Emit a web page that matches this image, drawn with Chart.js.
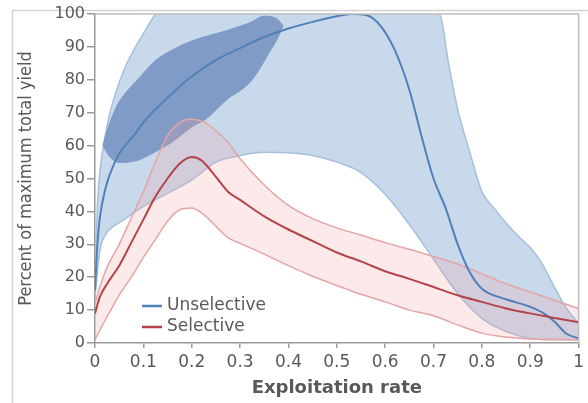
<!DOCTYPE html>
<html>
<head>
<meta charset="utf-8">
<script src="https://cdn.jsdelivr.net/npm/chart.js@4.4.0/dist/chart.umd.min.js"></script>
<style>
html, body { margin: 0; padding: 0; background: #fff; }
#wrap { width: 588px; height: 403px; }
</style>
</head>
<body>
<div id="wrap"><canvas id="chart" width="588" height="403"></canvas></div>
<script>
// data
const unselMeanX = [0, 0.005, 0.01, 0.02, 0.03, 0.05, 0.08, 0.1, 0.125, 0.15, 0.175, 0.2, 0.25, 0.3, 0.35, 0.4, 0.45, 0.5, 0.53, 0.56, 0.59, 0.62, 0.65, 0.675, 0.7, 0.725, 0.75, 0.775, 0.8, 0.85, 0.9, 0.925, 0.95, 0.975, 1];
const unselMeanY = [16, 30, 38, 46, 51, 57.5, 63, 67, 71, 74.5, 78, 81, 86, 89.6, 93, 95.6, 97.6, 99.3, 100, 99.7, 96.5, 89, 77, 63, 50, 41, 30, 21.5, 16.5, 13.3, 11, 9.3, 6.5, 2.8, 1.4];

const unselHighX = [0, 0.005, 0.01, 0.02, 0.03, 0.045, 0.06, 0.08, 0.1, 0.125, 0.15, 0.2, 0.3, 0.4, 0.5, 0.6, 0.66, 0.69, 0.715, 0.73, 0.75, 0.775, 0.8, 0.825, 0.85, 0.875, 0.9, 0.925, 0.95, 0.975, 1];
const unselHighY = [22, 42, 52, 62, 69.5, 77, 83, 89, 94, 100, 104, 109, 113, 114, 113, 110, 106, 102.5, 99, 86, 71, 58, 46, 41, 36.5, 32.5, 29, 24, 17, 10.5, 6];

const unselLowX = [0, 0.01, 0.02, 0.03, 0.06, 0.1, 0.15, 0.2, 0.25, 0.3, 0.35, 0.4, 0.45, 0.5, 0.55, 0.6, 0.65, 0.7, 0.75, 0.8, 0.85, 0.9, 0.95, 1];
const unselLowY = [14, 28, 32.5, 34.5, 37.5, 41.5, 45.5, 49.5, 55, 57, 58, 57.8, 57, 55, 51.8, 45.2, 36, 25.5, 15, 7.5, 3.5, 1.4, 1, 1];

// darker region around the unselective optimum
const blobTopX = [0.015, 0.025, 0.044, 0.065, 0.09, 0.125, 0.17, 0.21, 0.27, 0.32, 0.35, 0.375, 0.39];
const blobTopY = [60, 65, 72, 76.5, 80.5, 86, 90, 92.5, 95, 97.5, 99.5, 98.8, 96.5];
const blobBottomX = [0.015, 0.03, 0.05, 0.09, 0.125, 0.16, 0.2, 0.23, 0.27, 0.32, 0.34, 0.36, 0.38, 0.39];
const blobBottomY = [60, 56.5, 54.7, 55.5, 58, 61, 65.5, 68, 73.5, 79, 83, 88, 93, 96.5];

const selMeanX = [0, 0.01, 0.025, 0.05, 0.075, 0.1, 0.125, 0.15, 0.175, 0.2, 0.22, 0.25, 0.275, 0.3, 0.35, 0.4, 0.45, 0.5, 0.55, 0.6, 0.65, 0.7, 0.75, 0.8, 0.85, 0.9, 0.95, 1];
const selMeanY = [9, 14, 18, 23.5, 30.5, 37.5, 44.5, 50, 54.5, 56.5, 55.5, 50.5, 46, 43.5, 38.5, 34.5, 31, 27.5, 24.8, 21.8, 19.5, 17, 14.5, 12.5, 10.5, 9, 7.6, 6.3];

const selHighX = [0, 0.01, 0.025, 0.05, 0.075, 0.1, 0.125, 0.15, 0.175, 0.2, 0.225, 0.25, 0.275, 0.3, 0.35, 0.4, 0.45, 0.5, 0.55, 0.6, 0.65, 0.7, 0.75, 0.8, 0.85, 0.9, 0.95, 1];
const selHighY = [12, 17, 23, 30, 38, 46, 55, 63, 67, 68, 67.2, 64.5, 61, 56, 48, 41.8, 37.8, 35, 32.8, 30.5, 28.5, 26.3, 24, 21, 18, 15.5, 13, 10.5];

const selLowX = [0, 0.025, 0.05, 0.075, 0.1, 0.125, 0.15, 0.175, 0.2, 0.225, 0.25, 0.275, 0.3, 0.35, 0.4, 0.45, 0.5, 0.55, 0.6, 0.65, 0.7, 0.75, 0.8, 0.85, 0.9, 1];
const selLowY = [1, 8, 14.5, 20, 26, 31.5, 37, 40.5, 41, 39, 35.5, 32, 30.3, 27, 23.5, 20.3, 17.5, 14.8, 12.5, 10, 8.3, 5.5, 3, 1.8, 1.2, 1];

const legendLabels = ['Unselective', 'Selective'];

// colours
const blueLine = '#5080b9';
const blueEdge = '#a6bfdc';
const blueFill = '#c9d9ec';
const blobFill = '#809cc6';
const redLine = '#b5444a';
const redEdge = '#e6a4a6';
const redFill = 'rgba(240, 160, 160, 0.22)';
const textGray = '#595959';

function pts(xs, ys) {
    return xs.map((x, i) => ({ x: x, y: ys[i] }));
}

function lineSet(xs, ys, color, width, order, fill) {
    return {
        data: pts(xs, ys),
        borderColor: color,
        borderWidth: width,
        pointRadius: 0,
        cubicInterpolationMode: 'monotone',
        fill: fill || false,
        order: order
    };
}

const datasets = [
    // 0,1 unselective band
    lineSet(unselHighX, unselHighY, blueEdge, 1.5, 10, { target: 1, above: blueFill, below: blueFill }),
    lineSet(unselLowX, unselLowY, blueEdge, 1.5, 9),
    // 2,3 dark region
    lineSet(blobTopX, blobTopY, blobFill, 0, 8, { target: 3, above: blobFill, below: blobFill }),
    lineSet(blobBottomX, blobBottomY, blobFill, 0, 7),
    // 4,5 selective band
    lineSet(selHighX, selHighY, redEdge, 1.5, 6, { target: 5, above: redFill, below: redFill }),
    lineSet(selLowX, selLowY, redEdge, 1.5, 5),
    // 6,7 means
    lineSet(unselMeanX, unselMeanY, blueLine, 2, 2),
    lineSet(selMeanX, selMeanY, redLine, 2, 1)
];

// frame, plot border and legend
const decor = {
    id: 'decor',
    beforeDraw(chart) {
        const c = chart.ctx;
        c.save();
        c.fillStyle = '#fff';
        c.fillRect(0, 0, chart.width, chart.height);
        c.strokeStyle = '#d2d2d2';
        c.lineWidth = 1.5;
        c.strokeRect(12.5, 10.5, chart.width, chart.height);
        c.restore();
    },
    afterDraw(chart) {
        const c = chart.ctx;
        const a = chart.chartArea;
        c.save();
        c.strokeStyle = '#bdbdbd';
        c.lineWidth = 1.5;
        c.beginPath();
        c.moveTo(a.left, a.top);
        c.lineTo(a.right, a.top);
        c.lineTo(a.right, a.bottom);
        c.stroke();

        const colors = [blueLine, redLine];
        c.font = '17px "DejaVu Sans", sans-serif';
        c.textBaseline = 'middle';
        legendLabels.forEach((lab, i) => {
            const y = 306 + i * 21;
            c.strokeStyle = colors[i];
            c.lineWidth = 2.5;
            c.beginPath();
            c.moveTo(142, y);
            c.lineTo(162, y);
            c.stroke();
            c.fillStyle = textGray;
            c.fillText(lab, 167, y);
        });
        c.restore();
    }
};

new Chart(document.getElementById('chart'), {
    type: 'line',
    data: { datasets: datasets },
    options: {
        responsive: false,
        animation: false,
        layout: { padding: { left: 0, top: 14, right: 1, bottom: 0 } },
        plugins: {
            legend: { display: false },
            tooltip: { enabled: false },
            filler: { propagate: false }
        },
        scales: {
            x: {
                type: 'linear',
                min: 0,
                max: 1,
                afterFit: (s) => { s.height = 60; },
                grid: { drawOnChartArea: false, tickLength: 5, color: '#9a9a9a', lineWidth: 1.5 },
                border: { color: '#9a9a9a', width: 1.5 },
                ticks: {
                    stepSize: 0.1,
                    padding: 4,
                    color: textGray,
                    maxRotation: 0,
                    font: { family: 'DejaVu Sans', size: 17 },
                    callback: (v) => {
                        const r = Math.round(v * 10) / 10;
                        return (r === 0 || r === 1) ? String(r) : r.toFixed(1);
                    }
                },
                title: {
                    display: true,
                    text: 'Exploitation rate',
                    color: textGray,
                    padding: { top: 0, bottom: 4 },
                    font: { family: 'DejaVu Sans', size: 18, weight: 'bold', lineHeight: 1.2 }
                }
            },
            y: {
                min: 0,
                max: 100,
                afterFit: (s) => { s.width = 95; },
                grid: { drawOnChartArea: false, tickLength: 8, color: '#9a9a9a', lineWidth: 1.5 },
                border: { color: '#9a9a9a', width: 1.5 },
                ticks: {
                    stepSize: 10,
                    padding: 2,
                    color: textGray,
                    font: { family: 'DejaVu Sans', size: 16 }
                },
                title: {
                    display: true,
                    text: 'Percent of maximum total yield',
                    color: textGray,
                    padding: { top: 16, bottom: 0 },
                    font: { family: "'Liberation Sans Narrow', 'DejaVu Sans Condensed', sans-serif", size: 18, lineHeight: 1.2 }
                }
            }
        }
    },
    plugins: [decor]
});
</script>
</body>
</html>
